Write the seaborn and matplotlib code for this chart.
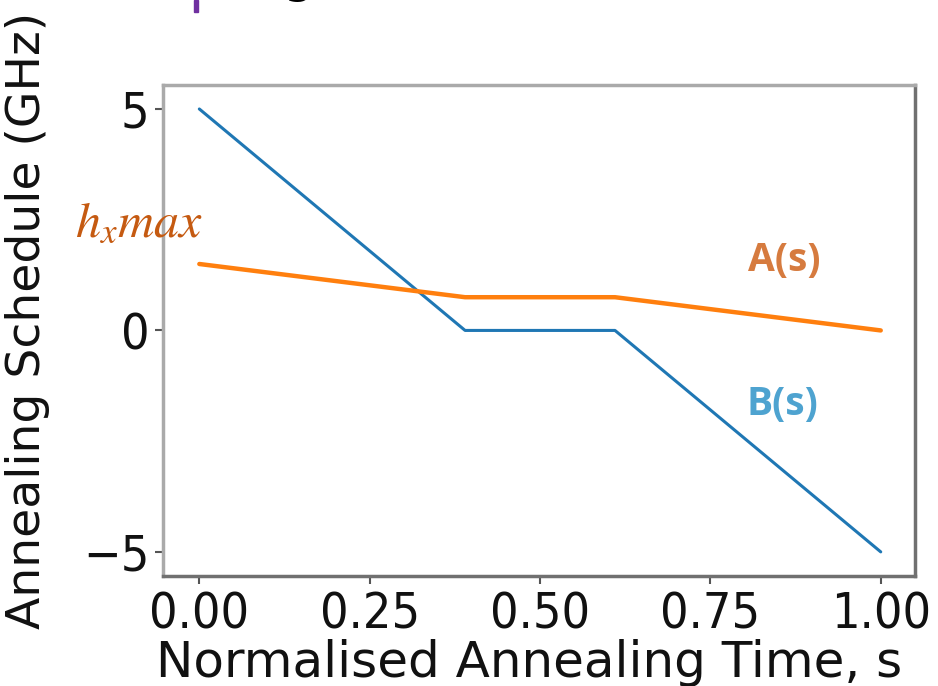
import matplotlib
matplotlib.use("Agg")
import matplotlib.pyplot as plt
import seaborn as sns
import pandas as pd

# Data
s_points = [0.0, 0.39, 0.61, 1.0]
A_values = [1.5, 0.75, 0.75, 0.0]
B_values = [5.0, 0.0, 0.0, -5.0]
xticks = [0.00, 0.25, 0.50, 0.75, 1.00]
yticks = [-5, 0, 5]

df = pd.DataFrame({
    "s": s_points * 2,
    "value": B_values + A_values,
    "series": ["B(s)"] * len(s_points) + ["A(s)"] * len(s_points),
})

sns.set_style("white")
plt.rcParams["font.family"] = ["DejaVu Sans"]

fig = plt.figure(figsize=(9.38, 6.86), dpi=100)
ax = fig.add_axes([0.174, 0.160, 0.802, 0.716])

sns.lineplot(data=df[df.series == "B(s)"], x="s", y="value", ax=ax,
             color="#1f77b4", linewidth=2.2, legend=False)
sns.lineplot(data=df[df.series == "A(s)"], x="s", y="value", ax=ax,
             color="#ff7f0e", linewidth=3.2, legend=False)

ax.set_xlim(-0.053, 1.051)
ax.set_ylim(-5.55, 5.54)
ax.set_xticks(xticks)
ax.set_xticklabels([f"{t:.2f}" for t in xticks])
ax.set_yticks(yticks)
ax.set_yticklabels(["\u22125", "0", "5"])
ax.tick_params(axis="both", length=6, width=1.5, color="#555555",
               direction="out", bottom=True, left=True, pad=4)
for lab in ax.get_xticklabels() + ax.get_yticklabels():
    lab.set_fontsize(36)
    lab.set_fontstretch("condensed")
    lab.set_color("#111111")
ax.set_xlabel("Normalised Annealing Time, s", fontsize=36, color="#111111")
ax.set_ylabel("Annealing Schedule (GHz)", fontsize=34, color="#111111")
ax.xaxis.set_label_coords(0.487, -0.128)
ax.yaxis.set_label_coords(-0.150, 0.52)

for side in ["left", "top"]:
    ax.spines[side].set_color("#aaaaaa")
    ax.spines[side].set_linewidth(2.5)
for side in ["right", "bottom"]:
    ax.spines[side].set_color("#707070")
    ax.spines[side].set_linewidth(2.5)

# Annotations
fig.text(0.08, 0.676, r"$h_x max$", fontsize=36, color="#C55A11",
         ha="left", va="center", math_fontfamily="stix")
ax.text(0.859, 1.58, "A(s)", fontsize=28, fontweight="bold", color="#D67B3F",
        family="Open Sans", ha="center", va="center")
ax.text(0.855, -1.68, "B(s)", fontsize=28, fontweight="bold", color="#4EA3D0",
        family="Open Sans", ha="center", va="center")

# Slide remnants at top edge
fig.patches.append(plt.Rectangle((0.2065, 0.983), 0.005, 0.017, transform=fig.transFigure,
                                 color="#7030A0", figure=fig))
fig.text(0.318, 1.012, "g", fontsize=36, color="black", ha="center", va="baseline")

fig.savefig("out.png", dpi=100)
